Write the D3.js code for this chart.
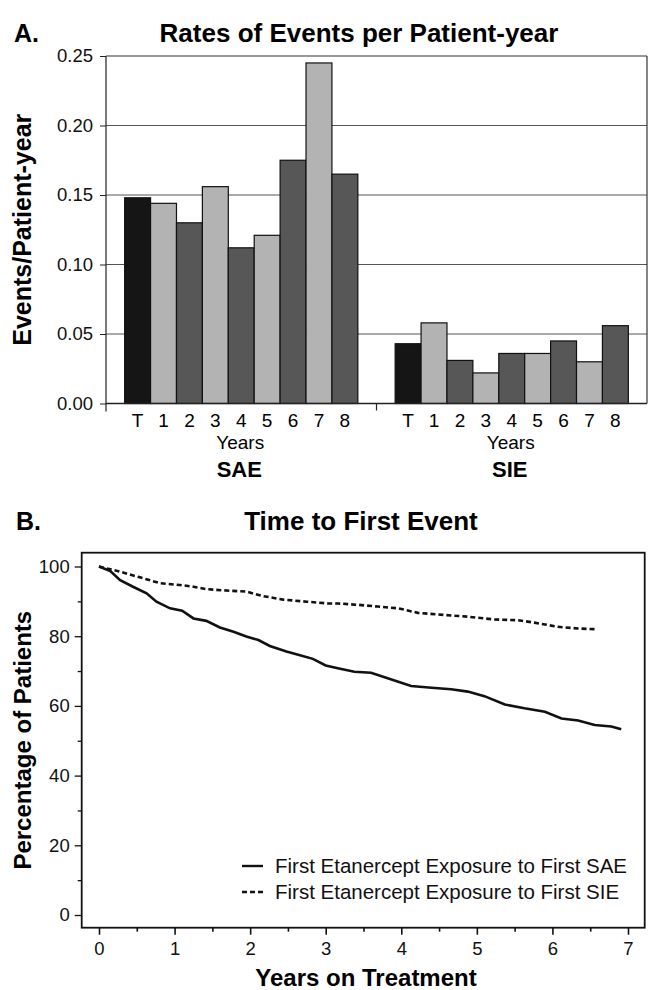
<!doctype html>
<html>
<head>
  <meta charset="utf-8">
  <title>Rates of Events and Time to First Event</title>
  <script src="https://d3js.org/d3.v7.min.js"></script>
  <style>
    body { margin: 0; background: #fff; }
    svg { display: block; font-family: "Liberation Sans", Arial, sans-serif; }
    .bold { font-weight: bold; }
  </style>
</head>
<body>
<div id="chart"></div>
<script>
  // ---- panel A data: events per patient-year ----
  var rateGroups = ["SAE", "SIE"];
  var rateCategories = ["T", "1", "2", "3", "4", "5", "6", "7", "8"];
  var saeRates = [0.148, 0.144, 0.130, 0.156, 0.112, 0.121, 0.175, 0.245, 0.165];
  var sieRates = [0.043, 0.058, 0.031, 0.022, 0.036, 0.036, 0.045, 0.030, 0.056];
  var rateTicks = [0, 0.05, 0.10, 0.15, 0.20, 0.25];

  // ---- panel B data: time to first event (years, % of patients) ----
  var saeYears = [0, 0.15, 0.28, 0.45, 0.63, 0.76, 0.94, 1.1, 1.25, 1.42, 1.6, 1.78, 1.95, 2.11, 2.26, 2.48, 2.66, 2.83, 3.0,
                  3.16, 3.38, 3.6, 3.87, 4.13, 4.4, 4.66, 4.88, 5.1, 5.37, 5.63, 5.9, 6.12, 6.34, 6.56, 6.78, 6.91];
  var saePct = [100, 98.7, 96.1, 94.2, 92.3, 89.9, 88.0, 87.3, 85.1, 84.4, 82.5, 81.3, 79.9, 78.9, 77.2, 75.6, 74.5, 73.5, 71.6,
                70.8, 69.8, 69.5, 67.6, 65.7, 65.2, 64.8, 64.1, 62.8, 60.4, 59.3, 58.3, 56.4, 55.8, 54.5, 54.1, 53.3];
  var sieYears = [0, 0.28, 0.54, 0.81, 1.07, 1.25, 1.42, 1.69, 1.95, 2.17, 2.44, 2.75, 3.03, 3.16, 3.43, 3.69, 3.96, 4.22,
                  4.57, 4.88, 5.23, 5.54, 5.76, 6.07, 6.34, 6.58];
  var siePct = [100, 98.5, 96.9, 95.2, 94.7, 94.2, 93.5, 93.1, 92.8, 91.5, 90.5, 89.9, 89.4, 89.4, 89.0, 88.5, 88.0, 86.7,
                86.1, 85.6, 84.8, 84.6, 83.9, 82.7, 82.2, 82.0];
  var yearTicks = [0, 1, 2, 3, 4, 5, 6, 7];
  var pctTicks = [0, 20, 40, 60, 80, 100];
  var legendLabels = ["First Etanercept Exposure to First SAE", "First Etanercept Exposure to First SIE"];

  var W = 648, H = 990;
  var svg = d3.select("#chart").append("svg")
      .attr("width", W)
      .attr("height", H);
  svg.append("rect").attr("width", W).attr("height", H).attr("fill", "#fff");

  /* ================= Panel A ================= */
  var a = {left: 106, right: 647, top: 56, bottom: 403.5};

  var x0 = d3.scaleBand().domain(rateGroups).range([a.left, a.right]);
  var x1 = d3.scaleBand().domain(rateCategories).range([0, x0.bandwidth()]).paddingInner(0).paddingOuter(0.72);
  var yA = d3.scaleLinear().domain([0, 0.25]).range([a.bottom, a.top]);

  svg.append("text").attr("class", "bold").attr("x", 14).attr("y", 42)
      .attr("font-size", 25).text("A.");
  svg.append("text").attr("class", "bold").attr("x", 359).attr("y", 42)
      .attr("text-anchor", "middle").attr("font-size", 26).text("Rates of Events per Patient-year");

  // gridlines
  svg.append("g").selectAll("line")
    .data(rateTicks.slice(1, 5))
    .join("line")
      .attr("x1", a.left).attr("x2", a.right)
      .attr("y1", function(d) { return yA(d); })
      .attr("y2", function(d) { return yA(d); })
      .attr("stroke", "#555").attr("stroke-width", 1);

  // bars
  function barFill(i) {
    if (i === 0) return "#151515";
    return (i % 2 === 1) ? "#b3b3b3" : "#575757";
  }
  var series = [saeRates, sieRates];
  rateGroups.forEach(function(g, gi) {
    svg.append("g")
        .attr("transform", "translate(" + x0(g) + ",0)")
      .selectAll("rect")
      .data(series[gi])
      .join("rect")
        .attr("x", function(d, i) { return x1(rateCategories[i]); })
        .attr("y", function(d) { return yA(d); })
        .attr("width", x1.bandwidth())
        .attr("height", function(d) { return yA(0) - yA(d); })
        .attr("fill", function(d, i) { return barFill(i); })
        .attr("stroke", "#111").attr("stroke-width", 1.2);

    // category labels under each group
    svg.append("g")
        .attr("transform", "translate(" + x0(g) + ",0)")
      .selectAll("text")
      .data(rateCategories)
      .join("text")
        .attr("x", function(d) { return x1(d) + x1.bandwidth() / 2; })
        .attr("y", 427)
        .attr("text-anchor", "middle")
        .attr("font-size", 19)
        .text(function(d) { return d; });

    svg.append("text")
        .attr("x", x0(g) + x0.bandwidth() / 2 - 1)
        .attr("y", 449)
        .attr("text-anchor", "middle")
        .attr("font-size", 19)
        .text("Years");
    svg.append("text").attr("class", "bold")
        .attr("x", x0(g) + x0.bandwidth() / 2 - 2)
        .attr("y", 477)
        .attr("text-anchor", "middle")
        .attr("font-size", 22)
        .text(g);
  });

  // y axis
  var yAxisA = svg.append("g")
      .attr("transform", "translate(" + a.left + ",0)")
      .call(d3.axisLeft(yA).tickValues(rateTicks).tickFormat(d3.format(".2f")).tickSize(6).tickPadding(7));
  yAxisA.selectAll("text").attr("font-size", 18.5).attr("fill", "#111").attr("font-family", "Liberation Sans, Arial, sans-serif");
  yAxisA.select(".domain").remove();
  yAxisA.selectAll("line").attr("stroke", "#222");

  // frame: left axis, top, right, bottom
  svg.append("line").attr("x1", a.left).attr("x2", a.left).attr("y1", a.top).attr("y2", a.bottom + 8)
      .attr("stroke", "#222").attr("stroke-width", 1.2);
  svg.append("line").attr("x1", a.left).attr("x2", a.right).attr("y1", a.top).attr("y2", a.top)
      .attr("stroke", "#333").attr("stroke-width", 1.2);
  svg.append("line").attr("x1", a.right).attr("x2", a.right).attr("y1", a.top).attr("y2", a.bottom)
      .attr("stroke", "#333").attr("stroke-width", 1.2);
  svg.append("line").attr("x1", a.left).attr("x2", a.right).attr("y1", a.bottom).attr("y2", a.bottom)
      .attr("stroke", "#222").attr("stroke-width", 1.5);
  // group separator tick
  svg.append("line")
      .attr("x1", x0("SIE")).attr("x2", x0("SIE"))
      .attr("y1", a.bottom).attr("y2", a.bottom + 7)
      .attr("stroke", "#222").attr("stroke-width", 1.2);

  svg.append("text").attr("class", "bold")
      .attr("transform", "translate(31," + ((a.top + a.bottom) / 2) + ") rotate(-90)")
      .attr("text-anchor", "middle").attr("font-size", 25)
      .text("Events/Patient-year");

  /* ================= Panel B ================= */
  var b = {left: 81.7, right: 644.7, top: 552.7, bottom: 927.7};
  var xB = d3.scaleLinear().domain([0, 7]).range([99, 628]);
  var yB = d3.scaleLinear().domain([0, 100]).range([915, 566.5]);

  svg.append("text").attr("class", "bold").attr("x", 16).attr("y", 530)
      .attr("font-size", 25).text("B.");
  svg.append("text").attr("class", "bold").attr("x", 361).attr("y", 530)
      .attr("text-anchor", "middle").attr("font-size", 26).text("Time to First Event");

  svg.append("rect")
      .attr("x", b.left).attr("y", b.top)
      .attr("width", b.right - b.left).attr("height", b.bottom - b.top)
      .attr("fill", "none").attr("stroke", "#111").attr("stroke-width", 1.8);

  // y axis ticks
  var yAxisB = svg.append("g")
      .attr("transform", "translate(" + b.left + ",0)")
      .call(d3.axisLeft(yB).tickValues(pctTicks).tickFormat(d3.format("d")).tickSize(7).tickPadding(5));
  yAxisB.select(".domain").remove();
  yAxisB.selectAll("text").attr("font-size", 18.5).attr("fill", "#111").attr("font-family", "Liberation Sans, Arial, sans-serif");
  yAxisB.selectAll("line").attr("stroke", "#111").attr("stroke-width", 1.3);
  var yMinorB = svg.append("g")
      .attr("transform", "translate(" + b.left + ",0)")
      .call(d3.axisLeft(yB).tickValues([10, 30, 50, 70, 90]).tickSize(4).tickFormat(""));
  yMinorB.select(".domain").remove();
  yMinorB.selectAll("line").attr("stroke", "#111").attr("stroke-width", 1.3);

  // x axis ticks
  var xAxisB = svg.append("g")
      .attr("transform", "translate(0," + b.bottom + ")")
      .call(d3.axisBottom(xB).tickValues(yearTicks).tickFormat(d3.format("d")).tickSize(7).tickPadding(7));
  xAxisB.select(".domain").remove();
  xAxisB.selectAll("text").attr("font-size", 18.5).attr("fill", "#111").attr("font-family", "Liberation Sans, Arial, sans-serif");
  xAxisB.selectAll("line").attr("stroke", "#111").attr("stroke-width", 1.6);
  var xMinorB = svg.append("g")
      .attr("transform", "translate(0," + b.bottom + ")")
      .call(d3.axisBottom(xB).tickValues([0.5, 1.5, 2.5, 3.5, 4.5, 5.5, 6.5]).tickSize(4).tickFormat(""));
  xMinorB.select(".domain").remove();
  xMinorB.selectAll("line").attr("stroke", "#111").attr("stroke-width", 1.6);

  // curves
  var line = d3.line()
      .x(function(d) { return xB(d[0]); })
      .y(function(d) { return yB(d[1]); });
  var saePts = saeYears.map(function(t, i) { return [t, saePct[i]]; });
  var siePts = sieYears.map(function(t, i) { return [t, siePct[i]]; });

  svg.append("path").datum(siePts)
      .attr("d", line).attr("fill", "none")
      .attr("stroke", "#111").attr("stroke-width", 2.6)
      .attr("stroke-dasharray", "5,3");
  svg.append("path").datum(saePts)
      .attr("d", line).attr("fill", "none")
      .attr("stroke", "#111").attr("stroke-width", 2.6);

  // legend
  var legend = svg.append("g");
  legend.append("line").attr("x1", 242).attr("x2", 263).attr("y1", 866).attr("y2", 866)
      .attr("stroke", "#111").attr("stroke-width", 2.4);
  legend.append("line").attr("x1", 242).attr("x2", 263).attr("y1", 892).attr("y2", 892)
      .attr("stroke", "#111").attr("stroke-width", 2.4).attr("stroke-dasharray", "5,3");
  legend.selectAll("text")
    .data(legendLabels)
    .join("text")
      .attr("x", 275)
      .attr("y", function(d, i) { return 873 + i * 26; })
      .attr("font-size", 20.5)
      .attr("fill", "#111")
      .text(function(d) { return d; });

  svg.append("text").attr("class", "bold")
      .attr("x", 366).attr("y", 986)
      .attr("text-anchor", "middle").attr("font-size", 24)
      .text("Years on Treatment");
  svg.append("text").attr("class", "bold")
      .attr("transform", "translate(31," + ((b.top + b.bottom) / 2) + ") rotate(-90)")
      .attr("text-anchor", "middle").attr("font-size", 24)
      .text("Percentage of Patients");
</script>
</body>
</html>
